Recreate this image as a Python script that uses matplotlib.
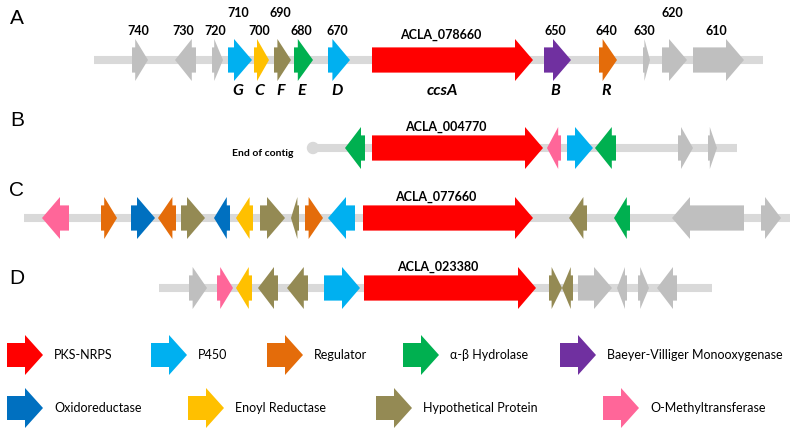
import matplotlib.pyplot as plt
from matplotlib.patches import Polygon, Circle

plt.rcParams['font.family'] = ['Lato', 'DejaVu Sans']

colors = {
    'pks': '#FF0000', 'p450': '#00B0F0', 'reg': '#E46C0A', 'hyd': '#00B050',
    'bvmo': '#7030A0', 'oxr': '#0070C0', 'enr': '#FFC000', 'hyp': '#948A54',
    'omt': '#FF6699', 'other': '#BFBFBF',
}
legend_keys = ['pks', 'p450', 'reg', 'hyd', 'bvmo', 'oxr', 'enr', 'hyp', 'omt']
legend_names = ['PKS-NRPS', 'P450', 'Regulator', 'α-β Hydrolase',
                'Baeyer-Villiger Monooxygenase', 'Oxidoreductase',
                'Enoyl Reductase', 'Hypothetical Protein', 'O-Methyltransferase']

# cluster A (A. clavatus ccs cluster)
a_start = [132, 175, 212, 228, 254, 274, 294, 328, 372, 544, 599, 643, 662, 693]
a_end = [148, 196, 223, 252, 269, 291, 313, 350, 533, 571, 617, 650, 687, 744]
a_strand = [1, -1, 1, 1, 1, 1, 1, 1, 1, 1, 1, 1, 1, 1]
a_type = ['other', 'other', 'other', 'p450', 'enr', 'hyp', 'hyd', 'p450', 'pks',
          'bvmo', 'reg', 'other', 'other', 'other']
a_num = ['740', '730', '720', '710', '700', '690', '680', '670', '', '650', '640',
         '630', '620', '610']
a_raised = ['710', '690', '620']
a_letter = ['', '', '', 'G', 'C', 'F', 'E', 'D', 'ccsA', 'B', 'R', '', '', '']

# cluster B
b_start = [345, 372, 547, 567, 595, 678, 708]
b_end = [365, 543, 561, 593, 616, 693, 717]
b_strand = [-1, 1, -1, 1, -1, 1, 1]
b_type = ['hyd', 'pks', 'omt', 'p450', 'hyd', 'other', 'other']

# cluster C
c_start = [42, 101, 131, 158, 181, 214, 236, 260, 291, 305, 328, 363, 569, 614, 672, 761]
c_end = [69, 117, 155, 176, 205, 230, 253, 285, 299, 323, 355, 533, 587, 630, 744, 781]
c_strand = [-1, 1, 1, -1, 1, -1, -1, 1, -1, 1, -1, 1, -1, -1, -1, 1]
c_type = ['omt', 'reg', 'oxr', 'reg', 'hyp', 'oxr', 'enr', 'hyp', 'hyp', 'reg',
          'p450', 'pks', 'hyp', 'hyd', 'other', 'other']

# cluster D
d_start = [189, 217, 236, 258, 287, 324, 364, 549, 562, 578, 617, 638, 657]
d_end = [207, 233, 252, 278, 308, 360, 536, 562, 573, 612, 627, 649, 677]
d_strand = [1, 1, -1, -1, -1, 1, 1, 1, -1, 1, -1, 1, -1]
d_type = ['other', 'omt', 'enr', 'hyp', 'hyp', 'p450', 'pks', 'hyp', 'hyp',
          'other', 'other', 'other', 'other']

tracks = [
    ('A', 60, 94, 763, a_start, a_end, a_strand, a_type, 'ACLA_078660'),
    ('B', 148, 313, 737, b_start, b_end, b_strand, b_type, 'ACLA_004770'),
    ('C', 218, 24, 790, c_start, c_end, c_strand, c_type, 'ACLA_077660'),
    ('D', 288, 159, 712, d_start, d_end, d_strand, d_type, 'ACLA_023380'),
]
panel_y = [19, 120, 191, 278]


def gene(ax, x0, x1, y, strand, color, h=42, shaft=0.6, head=18):
    hl = min(head, 0.8 * (x1 - x0))
    hh = h / 2
    sh = hh * shaft
    if strand > 0:
        pts = [(x0, y - sh), (x1 - hl, y - sh), (x1 - hl, y - hh), (x1, y),
               (x1 - hl, y + hh), (x1 - hl, y + sh), (x0, y + sh)]
    else:
        pts = [(x1, y - sh), (x0 + hl, y - sh), (x0 + hl, y - hh), (x0, y),
               (x0 + hl, y + hh), (x0 + hl, y + sh), (x1, y + sh)]
    ax.add_patch(Polygon(pts, closed=True, facecolor=color, edgecolor='none', zorder=3))


fig = plt.figure(figsize=(8, 4.38), dpi=100)
ax = fig.add_axes([0, 0, 1, 1])
ax.set_xlim(0, 800)
ax.set_ylim(438, 0)
ax.axis('off')

for (letter, y, bx0, bx1, st, en, sd, tp, name), py in zip(tracks, panel_y):
    ax.text(17, py, letter, fontsize=15, family='Liberation Sans', ha='center', va='center')
    ax.plot([bx0, bx1], [y, y], color='#D9D9D9', lw=5.8, solid_capstyle='butt', zorder=1)
    for x0, x1, s, t in zip(st, en, sd, tp):
        gene(ax, x0, x1, y, s, colors[t])
        if t == 'pks':
            ax.text((x0 + x1) / 2 - 12, y - 25 if letter == 'A' else y - 21, name,
                    fontsize=9, fontweight='bold', ha='center', va='center')

ax.add_patch(Circle((313, 148), 5.5, color='#D9D9D9', zorder=1))
ax.text(293, 154, 'End of contig', fontsize=7.5, fontweight='bold', ha='right', va='center')

for x0, x1, num, let in zip(a_start, a_end, a_num, a_letter):
    xc = (x0 + x1) / 2 - 2
    if num:
        ax.text(xc, 13 if num in a_raised else 31, num, fontsize=9, fontweight='bold',
                ha='center', va='center')
    if let:
        ax.text(xc - 8 if let == 'ccsA' else xc, 91, let, fontsize=11.5,
                fontweight='bold', style='italic', ha='center', va='center')

# legend
leg_x = [7, 151, 267, 403, 560, 7, 188, 376, 603]
leg_y = [355, 355, 355, 355, 355, 408, 408, 408, 408]
for k, nm, lx, ly in zip(legend_keys, legend_names, leg_x, leg_y):
    gene(ax, lx, lx + 36, ly, 1, colors[k], h=40, shaft=0.6, head=18)
    ax.text(lx + 47, ly, nm, fontsize=9, ha='left', va='center')

fig.savefig('out.png', dpi=100)
